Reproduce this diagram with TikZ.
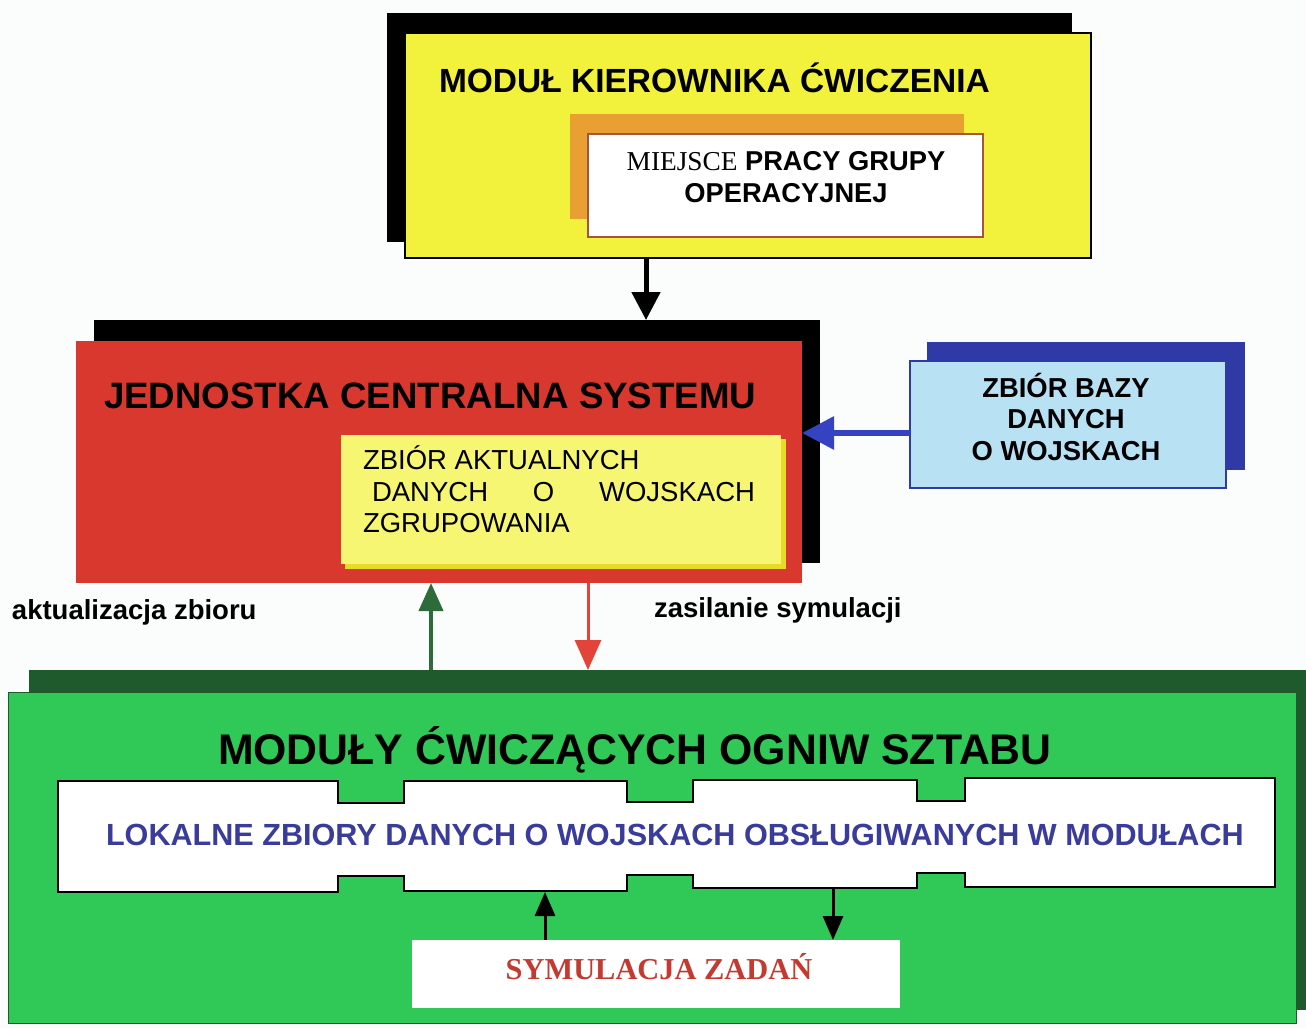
\documentclass[tikz,border=0pt]{standalone}
\usepackage{fontspec}
\setmainfont{Liberation Sans}
\newfontfamily\serifface{Liberation Serif}
\usetikzlibrary{arrows.meta}

\definecolor{bg}{HTML}{FBFCFC}
\definecolor{ylw}{HTML}{F2F23C}
\definecolor{orng}{HTML}{E9A032}
\definecolor{brn}{HTML}{A4553A}
\definecolor{redbox}{HTML}{D8382E}
\definecolor{ltylw}{HTML}{F6F672}
\definecolor{dkylw}{HTML}{E6DC28}
\definecolor{ltblue}{HTML}{B8E2F4}
\definecolor{dkblue}{HTML}{2F3AA6}
\definecolor{arblue}{HTML}{3542C2}
\definecolor{grn}{HTML}{30C957}
\definecolor{dkgrn}{HTML}{1F5A2C}
\definecolor{argrn}{HTML}{2E6B3B}
\definecolor{arred}{HTML}{E2443A}
\definecolor{txtblue}{HTML}{3A3C9C}
\definecolor{txtred}{HTML}{C43A30}

\newcommand{\fs}[1]{\fontsize{#1}{#1}\selectfont}

\begin{document}
\begin{tikzpicture}[x=1pt,y=-1pt,
  panel/.style={rectangle, inner sep=0pt, outer sep=0pt, anchor=north west},
  txt/.style={inner sep=0pt, outer sep=0pt},
  arrK/.style={draw=black, line width=5pt, -{Triangle[width=28pt,length=28pt]}},
  arrB/.style={draw=arblue, line width=6pt, -{Triangle[width=32pt,length=32pt]}},
  arrG/.style={draw=argrn, line width=4pt, -{Triangle[width=24pt,length=28pt]}},
  arrR/.style={draw=arred, line width=3pt, -{Triangle[width=26pt,length=30pt]}},
  arrS/.style={draw=black, line width=3pt, -{Triangle[width=20pt,length=24pt]}}]

\fill[bg] (0,0) rectangle (1306,1028);
\useasboundingbox (0,0) rectangle (1306,1028);

% --- top module: exercise director ---
\node[panel, fill=black, minimum width=685pt, minimum height=229pt] (kiersh) at (387,13) {};
\node[panel, fill=ylw, draw=black, line width=2pt, minimum width=686pt, minimum height=225pt] (kier) at (405,33) {};
\node[txt, anchor=base west, font=\bfseries\fs{33.5}] (kiert) at (439,92) {MODUŁ KIEROWNIKA ĆWICZENIA};
\node[panel, fill=orng, minimum width=394pt, minimum height=105pt] (grupsh) at (570,114) {};
\node[panel, fill=white, draw=brn, line width=2.5pt, minimum width=395pt, minimum height=103pt] (grup) at (588,134) {};
\node[txt, anchor=base, font=\fs{27.3}] (grup1) at (786,170) {{\serifface MIEJSCE} \textbf{PRACY GRUPY}};
\node[txt, anchor=base, font=\bfseries\fs{27.3}] (grup2) at (786,202) {OPERACYJNEJ};

% --- central unit ---
\node[panel, fill=black, minimum width=726pt, minimum height=243pt] (centsh) at (94,320) {};
\node[panel, fill=redbox, minimum width=726pt, minimum height=242pt] (cent) at (76,341) {};
\node[txt, anchor=base west, font=\bfseries\fs{36.7}] (centt) at (104,408) {JEDNOSTKA CENTRALNA SYSTEMU};
\node[panel, fill=dkylw, minimum width=441pt, minimum height=130pt] (aktsh) at (345,439) {};
\node[panel, fill=ltylw, minimum width=440pt, minimum height=129pt] (akt) at (341,435) {};
\node[txt, anchor=base west, font=\fs{27.5}] (akt1) at (363,469) {ZBIÓR AKTUALNYCH};
\node[txt, anchor=base west, font=\fs{27.5}] (akt2) at (372,501) {\makebox[383pt]{DANYCH\hfill O\hfill WOJSKACH}};
\node[txt, anchor=base west, font=\fs{27.5}] (akt3) at (363,532) {ZGRUPOWANIA};

% --- database of forces ---
\node[panel, fill=dkblue, minimum width=318pt, minimum height=128pt] (bazash) at (927,342) {};
\node[panel, fill=ltblue, draw=dkblue, line width=2pt, minimum width=316pt, minimum height=127pt] (baza) at (910,361) {};
\node[txt, anchor=base, font=\bfseries\fs{27.4}] (baza1) at (1066,397) {ZBIÓR BAZY};
\node[txt, anchor=base, font=\bfseries\fs{27.4}] (baza2) at (1066,428) {DANYCH};
\node[txt, anchor=base, font=\bfseries\fs{27.4}] (baza3) at (1066,460) {O WOJSKACH};

% --- staff cells modules ---
\node[panel, fill=dkgrn, minimum width=1290pt, minimum height=340pt] (modsh) at (29,670) {};
\node[panel, fill=grn, draw=dkgrn, line width=1pt, minimum width=1288pt, minimum height=331pt] (mod) at (8,692) {};
\node[txt, anchor=base west, font=\bfseries\fs{42.8}] (modt) at (218,764) {MODUŁY ĆWICZĄCYCH OGNIW SZTABU};

% notched band of local data sets
\draw[fill=white, draw=black, line width=2.5pt]
  (58,781) -- (338,781) -- (338,803) -- (404,803) -- (404,781) -- (627,781)
  -- (627,802) -- (693,802) -- (693,780) -- (917,780) -- (917,801) -- (965,801)
  -- (965,778) -- (1275,778) -- (1275,887) -- (965,887) -- (965,873) -- (917,873)
  -- (917,888) -- (693,888) -- (693,875) -- (627,875) -- (627,891) -- (404,891)
  -- (404,876) -- (338,876) -- (338,892) -- (58,892) -- cycle;
\node[txt, anchor=base west, font=\bfseries\fs{30.6}, text=txtblue] (lok) at (106,845)
  {LOKALNE ZBIORY DANYCH O WOJSKACH OBSŁUGIWANYCH W MODUŁACH};
\coordinate (lokU) at (545,892);
\coordinate (lokD) at (833,888);

\node[panel, fill=white, minimum width=488pt, minimum height=68pt] (sym) at (412,940) {};
\node[txt, anchor=base, font=\serifface\bfseries\fs{30.4}, text=txtred] (symt) at (659,979) {SYMULACJA ZADAŃ};

% --- labels ---
\node[txt, anchor=base west, font=\bfseries\fs{27.5}] (lab1) at (12,619) {aktualizacja zbioru};
\node[txt, anchor=base west, font=\bfseries\fs{27.5}] (lab2) at (654,617) {zasilanie symulacji};

% --- connectors ---
\coordinate (xK) at (646,0);
\coordinate (yB) at (0,433);
\coordinate (xG) at (431,0);
\coordinate (xR) at (588,0);
\draw[arrK] (xK |- kier.south) -- (xK |- centsh.north);
\draw[arrB] (baza.west |- yB) -- (cent.east |- yB);
\draw[arrG] (xG |- modsh.north) -- (xG |- cent.south);
\draw[arrR] (xR |- cent.south) -- (xR |- modsh.north);
\draw[arrS] (lokU |- sym.north) -- (lokU);
\draw[arrS] (lokD) -- (lokD |- sym.north);
\end{tikzpicture}
\end{document}
